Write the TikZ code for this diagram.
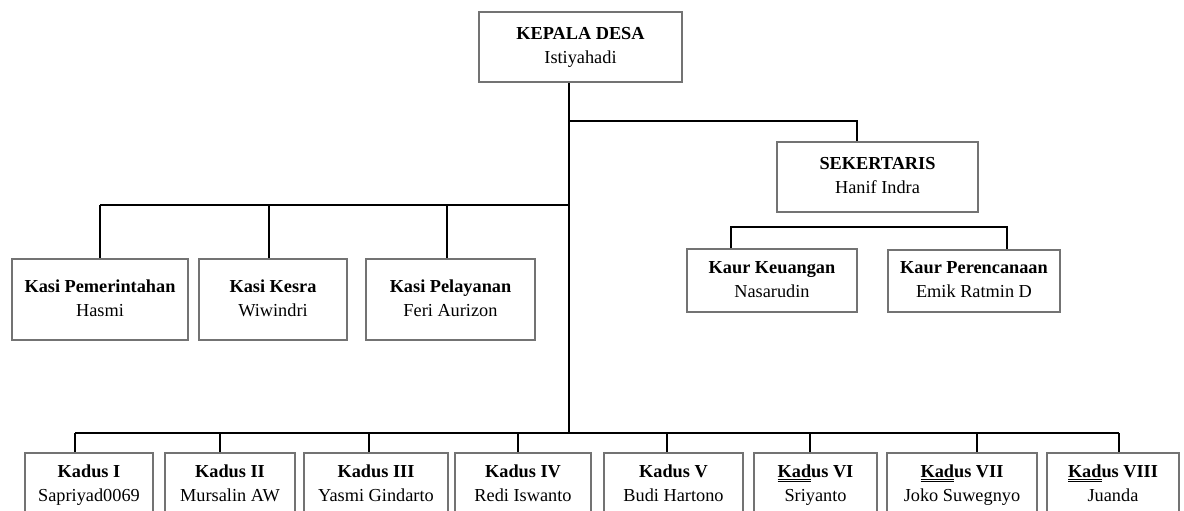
\documentclass[tikz,border=0pt]{standalone}
\usepackage{fontspec}
\setmainfont{Liberation Serif}
\newcommand{\garis}[1]{\underline{\underline{#1}}}
\newcommand{\jab}[2]{\textbf{#1}\strut\\#2\strut}
\begin{document}
\begin{tikzpicture}[x=1pt,y=-1pt,
	kotak/.style={draw=black!55,line width=1.2pt,align=center,inner sep=0pt,font=\fontsize{18.3}{24}\selectfont},
	tebal/.style={line width=2.7pt},
	tipis/.style={line width=1.7pt}]
	\useasboundingbox (0,0) rectangle (1184,511);
	\clip (0,0) rectangle (1184,511);
	% pimpinan
	\node[kotak,minimum width=203pt,minimum height=70pt] (kades) at (580.5,47) {\jab{KEPALA DESA}{Istiyahadi}};
	\node[kotak,minimum width=201pt,minimum height=70pt] (sekdes) at (877.5,177) {\jab{SEKERTARIS}{Hanif Indra}};
	% kaur
	\node[kotak,minimum width=170pt,minimum height=63pt] (keu) at (772,280.5) {\jab{Kaur Keuangan}{Nasarudin}};
	\node[kotak,minimum width=172pt,minimum height=62pt] (ren) at (974,281) {\jab{Kaur Perencanaan}{Emik Ratmin D}};
	% kasi
	\node[kotak,minimum width=176pt,minimum height=81pt] (pem) at (100,299.5) {\jab{Kasi Pemerintahan}{Hasmi}};
	\node[kotak,minimum width=148pt,minimum height=81pt] (kesra) at (273,299.5) {\jab{Kasi Kesra}{Wiwindri}};
	\node[kotak,minimum width=169pt,minimum height=81pt] (pel) at (450.5,299.5) {\jab{Kasi Pelayanan}{Feri Aurizon}};
	% garis utama
	\coordinate (pusat) at (569,121);
	\coordinate (kasi) at (569,205);
	\coordinate (kadus) at (569,433);
	\coordinate (sek) at (857,121);
	\draw[tebal] (kades.south -| kadus) -- (kadus);
	\draw[tebal] (pusat) -- (sek) -- (sek |- sekdes.north);
	\foreach \n/\xx in {pem/100,kesra/269,pel/447}{
		\coordinate (c\n) at (\xx,205);
		\draw[tebal] (c\n) -- (c\n |- \n.north);
	}
	\draw[tebal] (kasi) -- (cpem);
	\coordinate (ckeu) at (731,227);
	\coordinate (cren) at (1007,227);
	\draw[tebal] (ckeu |- keu.north) -- (ckeu) -- (cren) -- (cren |- ren.north);
	% kadus
	\foreach \cx/\lebar/\turun/\judul/\nama [count=\i] in {
		89/128/75/{Kadus I}/Sapriyad0069,
		230/130/220/{Kadus II}/Mursalin AW,
		376/144/369/{Kadus III}/Yasmi Gindarto,
		523/136/518/{Kadus IV}/Redi Iswanto,
		673.5/139/667/{Kadus V}/Budi Hartono,
		815.5/123/810/{\garis{Kad}us VI}/Sriyanto,
		962/150/977/{\garis{Kad}us VII}/Joko Suwegnyo,
		1113/132/1119/{\garis{Kad}us VIII}/Juanda}{
		\node[kotak,minimum width=\lebar pt,minimum height=64pt] (kadus\i) at (\cx,485) {\jab{\judul}{\nama}};
		\coordinate (t\i) at (\turun,433);
		\draw[tipis] (t\i) -- (t\i |- kadus\i.north);
	}
	\draw[tipis] (t1) -- (t8);
\end{tikzpicture}
\end{document}
